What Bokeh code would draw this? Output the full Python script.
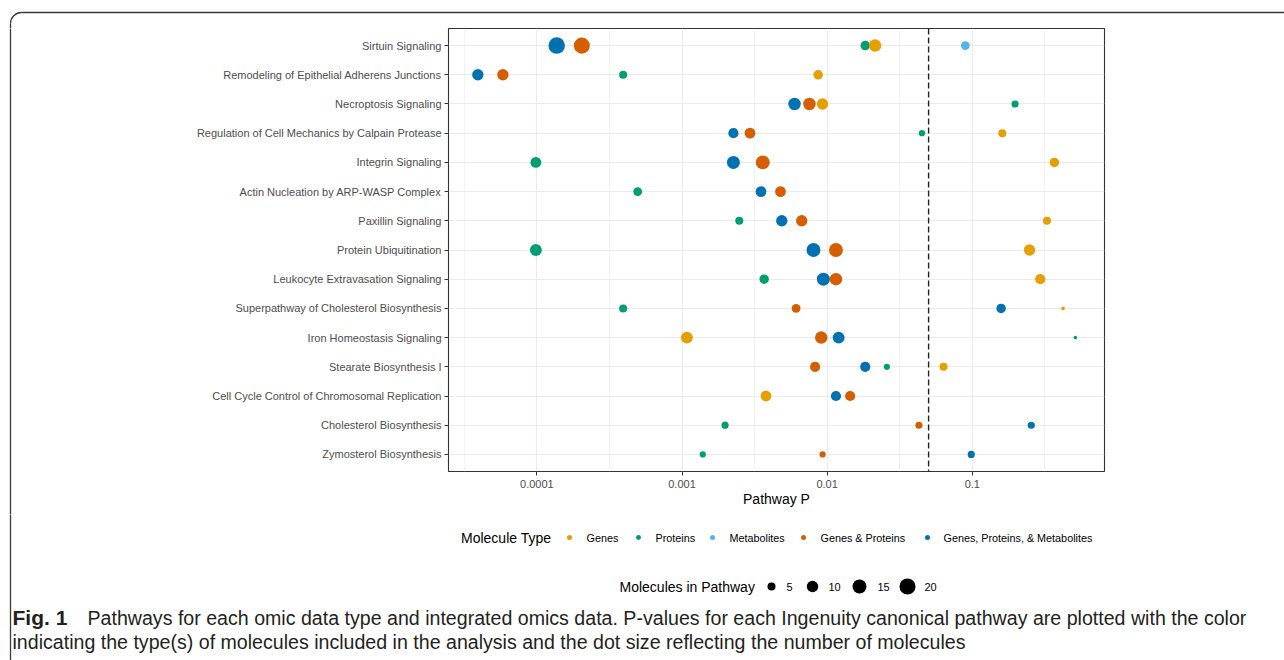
import math
from bokeh.plotting import figure
from bokeh.models import (FactorRange, FixedTicker, CustomJSTickFormatter, Span, Range1d)
from bokeh.layouts import column, row
from bokeh.core.properties import value
from bokeh.embed import file_html
from bokeh.resources import INLINE

# ---------------- data ----------------
pathways = [
    "Sirtuin Signaling",
    "Remodeling of Epithelial Adherens Junctions",
    "Necroptosis Signaling",
    "Regulation of Cell Mechanics by Calpain Protease",
    "Integrin Signaling",
    "Actin Nucleation by ARP-WASP Complex",
    "Paxillin Signaling",
    "Protein Ubiquitination",
    "Leukocyte Extravasation Signaling",
    "Superpathway of Cholesterol Biosynthesis",
    "Iron Homeostasis Signaling",
    "Stearate Biosynthesis I",
    "Cell Cycle Control of Chromosomal Replication",
    "Cholesterol Biosynthesis",
    "Zymosterol Biosynthesis",
]

mol_types = ["Genes", "Proteins", "Metabolites", "Genes & Proteins",
             "Genes, Proteins, & Metabolites"]

genes_p = [0.0214, 0.00867, 0.00929, 0.161, 0.368, None, 0.327, 0.248, 0.294,
           0.422, 0.00108, 0.0634, 0.00379, None, None]
genes_n = [12, 7, 10, 5, 7, None, 5, 10, 8, 1, 11, 5, 9, None, None]

proteins_p = [0.0183, 0.000393, 0.197, 0.045, 0.0000984, 0.000495, 0.00248,
              0.0000984, 0.00368, 0.000393, 0.513, 0.0258, None, 0.00198, 0.00139]
proteins_n = [7, 5, 4, 3, 9, 6, 5, 11, 7, 5, 1, 3, None, 4, 3]

metabolites_p = [0.0895, None, None, None, None, None, None, None, None, None,
                 None, None, None, None, None]
metabolites_n = [6, None, None, None, None, None, None, None, None, None,
                 None, None, None, None, None]

gp_p = [0.000204, 0.0000583, 0.00755, 0.00294, 0.0036, 0.00477, 0.00668, 0.0115,
        0.0115, 0.00611, 0.0091, 0.00826, 0.0144, 0.0429, 0.0093]
gp_n = [20, 10, 12, 9, 15, 9, 10, 15, 12, 6, 12, 8, 8, 4, 3]

gpm_p = [0.000137, 0.0000392, 0.00596, 0.00226, 0.00226, 0.0035, 0.00487, 0.00805,
         0.00942, 0.158, 0.012, 0.0183, 0.0115, 0.255, 0.0984]
gpm_n = [21, 10, 12, 8, 13, 9, 10, 15, 13, 7, 11, 8, 8, 4, 4]

x_ticks = [0.0001, 0.001, 0.01, 0.1]
x_tick_labels = ["0.0001", "0.001", "0.01", "0.1"]
x_minor = [10 ** -4.5, 10 ** -3.5, 10 ** -2.5, 10 ** -1.5, 10 ** -0.5]
threshold_p = 0.05
size_legend_counts = [5, 10, 15, 20]

caption_bold = "Fig. 1"
caption_line1 = ("Pathways for each omic data type and integrated omics data. P-values for "
                 "each Ingenuity canonical pathway are plotted with the color")
caption_line2 = ("indicating the type(s) of molecules included in the analysis and the dot "
                 "size reflecting the number of molecules")

# ---------------- styles / layout ----------------
FONT_NAME = "Liberation Sans"
FONT = value(FONT_NAME)
BORDER = "#3a3a3a"
colors = {"Genes": "#E69F00", "Proteins": "#009E73", "Metabolites": "#56B4E9",
          "Genes & Proteins": "#D55E00", "Genes, Proteins, & Metabolites": "#0072B2"}


def dot_size(n):
    return 3.6 * math.sqrt(n)


W = 1284
H_TOP = 28      # strip above the plot (outer frame top edge)
H_MID = 486     # main plot
H_BOT = 146     # legends + caption
STRIP_W = 12


def blank(width, height):
    f = figure(width=width, height=height, x_range=Range1d(0, width),
               y_range=Range1d(0, height), toolbar_location=None,
               output_backend="svg", min_border=0, x_axis_location=None,
               y_axis_location=None)
    f.outline_line_color = None
    f.grid.visible = False
    f.background_fill_color = "white"
    f.border_fill_color = "white"
    f.frame_align = False
    return f


# top strip: rounded top-left corner + top edge of the outer box
top = blank(W, H_TOP)
R = 11
top.arc(x=[10 + R], y=[H_TOP - 12 - R], radius=R, start_angle=math.pi / 2,
        end_angle=math.pi, line_color=BORDER, line_width=1.3)
top.segment(x0=[10 + R], y0=[H_TOP - 12], x1=[W + 5], y1=[H_TOP - 12],
            line_color=BORDER, line_width=1.3)
top.segment(x0=[10], y0=[H_TOP - 12 - R], x1=[10], y1=[-5],
            line_color=BORDER, line_width=1.3)

# left strip beside the plot: left edge of the outer box
left = blank(STRIP_W, H_MID)
left.segment(x0=[10], y0=[-5], x1=[10], y1=[H_MID + 5], line_color=BORDER,
             line_width=1.3)

# main plot
p = figure(width=W - STRIP_W, height=H_MID, x_axis_type="log",
           x_range=(10 ** -4.609, 10 ** -0.089),
           y_range=FactorRange(factors=list(reversed(pathways)), range_padding=0.085,
                               range_padding_units="absolute"),
           toolbar_location=None, output_backend="svg",
           min_border_left=448 - STRIP_W, min_border_right=W - 1104, min_border_top=0,
           min_border_bottom=H_MID - (471 - H_TOP))
p.frame_align = False
p.background_fill_color = "white"
p.border_fill_color = "white"
p.outline_line_color = "#333333"
p.outline_line_width = 1.1

ticker = FixedTicker(ticks=x_ticks, minor_ticks=x_minor)
p.xaxis.ticker = ticker
p.xgrid.ticker = ticker
p.xaxis.formatter = CustomJSTickFormatter(code="return tick.toString();")
p.xaxis.major_label_overrides = dict(zip(x_ticks, x_tick_labels))
p.xgrid.grid_line_color = "#EBEBEB"
p.xgrid.grid_line_width = 1.1
p.xgrid.minor_grid_line_color = "#EBEBEB"
p.xgrid.minor_grid_line_width = 0.6
p.ygrid.grid_line_color = "#EBEBEB"
p.ygrid.grid_line_width = 1.1

for ax in (p.xaxis, p.yaxis):
    ax.axis_line_color = None
    ax.major_tick_line_color = "#333333"
    ax.major_tick_line_width = 1
    ax.major_tick_out = 4
    ax.major_tick_in = 0
    ax.minor_tick_line_color = None
    ax.major_label_text_font = FONT_NAME
    ax.major_label_text_font_size = "11px"
    ax.major_label_text_color = "#4D4D4D"
    ax.major_label_standoff = 3
p.xaxis.major_label_standoff = 4

p.xaxis.axis_label = "Pathway P"
p.xaxis.axis_label_text_font = FONT_NAME
p.xaxis.axis_label_text_font_size = "14px"
p.xaxis.axis_label_text_font_style = "normal"
p.xaxis.axis_label_text_color = "black"
p.xaxis.axis_label_standoff = 0

series = [
    ("Proteins", proteins_p, proteins_n),
    ("Metabolites", metabolites_p, metabolites_n),
    ("Genes, Proteins, & Metabolites", gpm_p, gpm_n),
    ("Genes & Proteins", gp_p, gp_n),
    ("Genes", genes_p, genes_n),
]
for name, ps, ns in series:
    xs, ys, ss = [], [], []
    for path, pv, n in zip(pathways, ps, ns):
        if pv is None:
            continue
        xs.append(pv)
        ys.append(path)
        ss.append(dot_size(n))
    p.scatter(x=xs, y=ys, size=ss, marker="circle", fill_color=colors[name],
              line_color=None)

p.add_layout(Span(location=threshold_p, dimension="height", line_color="#222222",
                  line_width=1.4, line_dash="6 3"))

# ---------------- bottom panel: legends + caption ----------------
p2 = blank(W, H_BOT)
p2.segment(x0=[10], y0=[-5], x1=[10], y1=[H_BOT + 5], line_color=BORDER, line_width=1.3)


def py(page_y):
    return H_BOT - (page_y - (H_TOP + H_MID))


LEG1_Y = py(537)
p2.text(x=[460.5], y=[LEG1_Y], text=["Molecule Type"], text_font=FONT,
        text_font_size="14px", text_baseline="middle", text_align="left",
        text_color="black")
leg_dot_x = [569, 638, 712, 803, 927]
leg_lab_x = [586, 655, 729, 820, 943]
p2.scatter(x=leg_dot_x, y=[LEG1_Y] * 5, size=5, marker="circle",
           fill_color=[colors[m] for m in mol_types], line_color=None)
p2.text(x=leg_lab_x, y=[LEG1_Y] * 5, text=mol_types, text_font=FONT,
        text_font_size="10.8px", text_baseline="middle", text_align="left",
        text_color="black")

LEG2_Y = py(586)
p2.text(x=[619], y=[LEG2_Y], text=["Molecules in Pathway"], text_font=FONT,
        text_font_size="14px", text_baseline="middle", text_align="left",
        text_color="black")
size_dot_x = [771, 812, 859, 907]
size_lab_x = [786, 828, 877, 924]
p2.scatter(x=size_dot_x, y=[LEG2_Y] * 4, size=[dot_size(n) for n in size_legend_counts],
           marker="circle", fill_color="black", line_color=None)
p2.text(x=size_lab_x, y=[LEG2_Y] * 4, text=[str(n) for n in size_legend_counts],
        text_font=FONT, text_font_size="11px", text_baseline="middle",
        text_align="left", text_color="black")

p2.text(x=[12], y=[py(617)], text=[caption_bold], text_font=FONT, text_font_size="21px",
        text_font_style="bold", text_baseline="middle", text_align="left",
        text_color="#231F20")
p2.text(x=[87], y=[py(617)], text=[caption_line1], text_font=FONT,
        text_font_size="19.6px", text_baseline="middle", text_align="left",
        text_color="#231F20")
p2.text(x=[12], y=[py(641)], text=[caption_line2], text_font=FONT,
        text_font_size="19.6px", text_baseline="middle", text_align="left",
        text_color="#231F20")

layout = column(top, row(left, p, spacing=0), p2, spacing=0)
open("out.html", "w").write(file_html(layout, INLINE))
